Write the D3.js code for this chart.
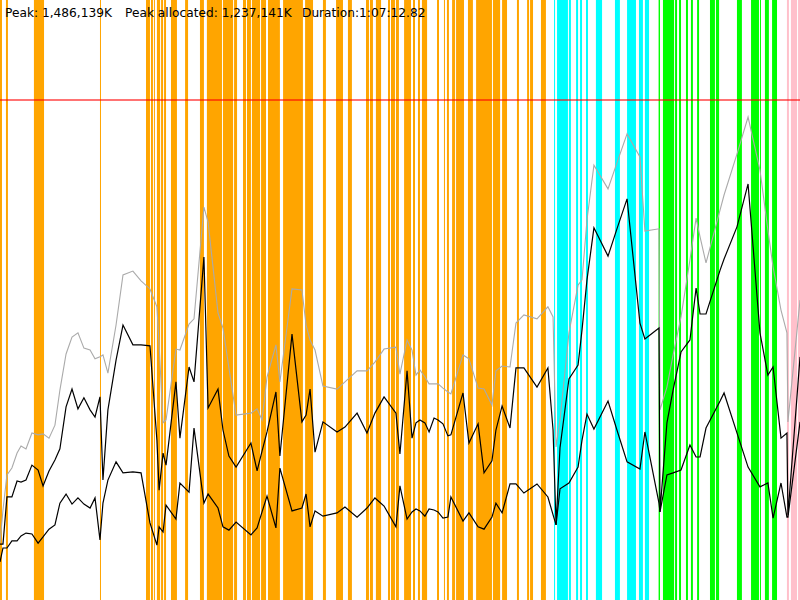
<!DOCTYPE html>
<html>
<head>
  <meta charset="UTF-8">
  <style>
    body { margin: 0; background: #fff; }
    svg { display: block; }
  </style>
</head>
<body>
<svg></svg>
<script src="https://d3js.org/d3.v7.min.js"></script>

<script>

let width = 800, height = 600;

// header values
const peakText = "Peak: 1,486,139K";
const peakAllocText = "Peak allocated: 1,237,141K";
const durationText = "Duration:1:07:12.82";
const durationSec = 4032.82;
const limitK = 1538; // thousands of K, red limit line

// sample times (seconds)
const times = [0, 15, 35, 60, 86, 106, 131, 161, 192, 217, 247, 277, 302, 333, 363, 393, 423, 454, 479, 504,
  519, 544, 585, 620, 670, 711, 756, 791, 802, 822, 837, 887, 907, 953, 978, 1028, 1049, 1099, 1124, 1154,
  1190, 1265, 1296, 1321, 1346, 1391, 1411, 1472, 1522, 1543, 1563, 1588, 1628, 1699, 1739, 1800, 1850, 1890, 1936, 1996,
  2016, 2052, 2077, 2097, 2117, 2142, 2163, 2188, 2208, 2233, 2258, 2273, 2334, 2364, 2410, 2440, 2480, 2500, 2531, 2571,
  2601, 2641, 2707, 2762, 2788, 2803, 2823, 2868, 2914, 2934, 2959, 2994, 3065, 3110, 3161, 3226, 3251, 3322, 3327, 3362,
  3393, 3433, 3478, 3509, 3529, 3559, 3630, 3650, 3715, 3771, 3831, 3871, 3897, 3937, 3967, 3972, 4033];

// heap size (thousands of K)
const heapTotal = [175, 277, 385, 406, 452, 474, 465, 514, 508, 511, 498, 538, 646, 757, 809, 822, 775, 769, 742, 748,
  754, 698, 846, 1000, 1012, 982, 957, 902, 785, 545, 554, 772, 769, 849, 865, 1209, 1163, 883, 837, 714,
  569, 575, 588, 554, 686, 785, 671, 957, 954, 846, 800, 769, 658, 649, 671, 705, 705, 732, 772, 778,
  695, 800, 769, 692, 708, 686, 665, 665, 665, 652, 640, 634, 754, 742, 652, 649, 600, 705, 720, 717,
  852, 877, 865, 902, 871, 471, 554, 822, 969, 985, 1169, 1338, 1265, 1345, 1434, 1363, 1135, 1142, 585, 655,
  754, 871, 1046, 1175, 1117, 1037, 1200, 1246, 1372, 1486, 1323, 1138, 1025, 892, 822, 548, 923];

// allocated before collection
const heapUsed = [172, 172, 317, 317, 366, 363, 369, 415, 400, 351, 397, 431, 465, 594, 649, 588, 622, 585, 563, 625,
  369, 585, 738, 846, 785, 785, 782, 492, 338, 452, 415, 671, 498, 717, 671, 1055, 591, 649, 523, 443,
  409, 483, 397, 458, 517, 640, 443, 818, 548, 569, 649, 455, 548, 517, 532, 575, 514, 575, 625, 575,
  449, 705, 498, 545, 554, 545, 517, 560, 554, 542, 505, 508, 637, 483, 542, 391, 428, 523, 597, 529,
  714, 714, 655, 714, 523, 231, 468, 680, 723, 831, 985, 1145, 1058, 1142, 1234, 852, 803, 837, 271, 545,
  646, 763, 800, 960, 880, 880, 1015, 1049, 1148, 1280, 822, 692, 717, 498, 514, 262, 748];

// live after collection
const heapLive = [117, 160, 160, 182, 182, 197, 206, 203, 175, 194, 218, 231, 298, 326, 295, 314, 295, 283, 314, 185,
  298, 369, 425, 391, 394, 391, 237, 169, 225, 209, 292, 249, 360, 332, 529, 298, 326, 283, 225, 215,
  240, 200, 222, 271, 320, 222, 406, 274, 283, 326, 225, 274, 258, 268, 286, 255, 283, 314, 289, 225,
  351, 249, 271, 280, 274, 258, 280, 277, 271, 252, 255, 317, 243, 268, 225, 218, 255, 298, 268, 357,
  357, 329, 357, 317, 262, 231, 342, 360, 409, 492, 572, 526, 612, 523, 425, 403, 517, 298, 271, 385,
  391, 400, 477, 440, 440, 529, 612, 637, 514, 409, 348, 360, 252, 360, 255, 255, 548];

// collection events [start, end] in seconds
const youngGC = [[0, 10], [30, 40], [171, 222], [504, 509], [736, 756], [761, 771], [776, 781], [791, 807], [812, 822],
  [827, 837], [862, 892], [933, 948], [1008, 1028], [1043, 1119], [1124, 1175], [1180, 1195], [1225, 1240],
  [1245, 1265], [1270, 1311], [1316, 1341], [1351, 1411], [1427, 1527], [1538, 1578], [1628, 1643], [1694, 1729],
  [1754, 1774], [1845, 1860], [1865, 1880], [1895, 1921], [1956, 1966], [1971, 1991], [1996, 2011], [2037, 2072],
  [2082, 2092], [2107, 2117], [2127, 2153], [2203, 2213], [2238, 2243], [2253, 2263], [2279, 2294], [2299, 2339],
  [2359, 2384], [2400, 2480], [2485, 2521], [2531, 2556], [2606, 2616], [2657, 2667], [2672, 2687], [2727, 2752]];
const mixedGC = [[2793, 2798], [2808, 2863], [2868, 2878], [2904, 2914], [2924, 2934], [2954, 2964], [3004, 3035],
  [3100, 3125], [3161, 3206], [3221, 3241], [3251, 3272]];
const concurrentGC = [[3320, 3327], [3342, 3398], [3403, 3413], [3423, 3433], [3458, 3468], [3483, 3493], [3514, 3524],
  [3579, 3604], [3609, 3625], [3715, 3740], [3786, 3826], [3831, 3836], [3856, 3876], [3892, 3917]];
const fullGC = [[3967, 3977], [3987, 4018], [4023, 4033]];

let svg = d3.select("svg")
    .attr("width", width)
    .attr("height", height)
    .attr("viewBox", "0 0 " + width + " " + height);

let x = d3.scaleLinear().domain([0, durationSec]).range([0, width]);
let y = d3.scaleLinear().domain([0, 1846]).range([height, 0]);

// event bands
let bandSets = [
    {data: youngGC, color: "#ffa500"},
    {data: mixedGC, color: "#00ffff"},
    {data: concurrentGC, color: "#00ff00"},
    {data: fullGC, color: "#ffc0cb"}
];
bandSets.forEach(function(set){
    svg.append("g")
        .selectAll("rect")
        .data(set.data)
        .enter()
        .append("rect")
        .attr("x", d => x(d[0]))
        .attr("y", 0)
        .attr("width", d => Math.max(1, x(d[1]) - x(d[0])))
        .attr("height", height)
        .style("fill", set.color);
});

// limit line
svg.append("line")
    .attr("x1", 0)
    .attr("x2", width)
    .attr("y1", y(limitK))
    .attr("y2", y(limitK))
    .style("stroke", "red")
    .style("stroke-opacity", 0.55)
    .style("stroke-width", "2px");

function drawLine(values, color, w) {
    let line = d3.line()
        .x((d, i) => x(times[i]))
        .y(d => y(d));
    svg.append("path")
        .datum(values)
        .attr("d", line)
        .style("fill", "none")
        .style("stroke", color)
        .style("stroke-width", w);
}
drawLine(heapTotal, "#aaaaaa", "1.1px");
drawLine(heapUsed, "#000000", "1.2px");
drawLine(heapLive, "#000000", "1.2px");

// header
let header = svg.append("g")
    .style("font-family", "'DejaVu Sans', sans-serif")
    .style("font-size", "12.2px")
    .style("fill", "#000");
header.append("text").attr("x", 5).attr("y", 17).text(peakText);
header.append("text").attr("x", 125).attr("y", 17).text(peakAllocText);
header.append("text").attr("x", 302).attr("y", 17).text(durationText);

</script>

</body>
</html>
